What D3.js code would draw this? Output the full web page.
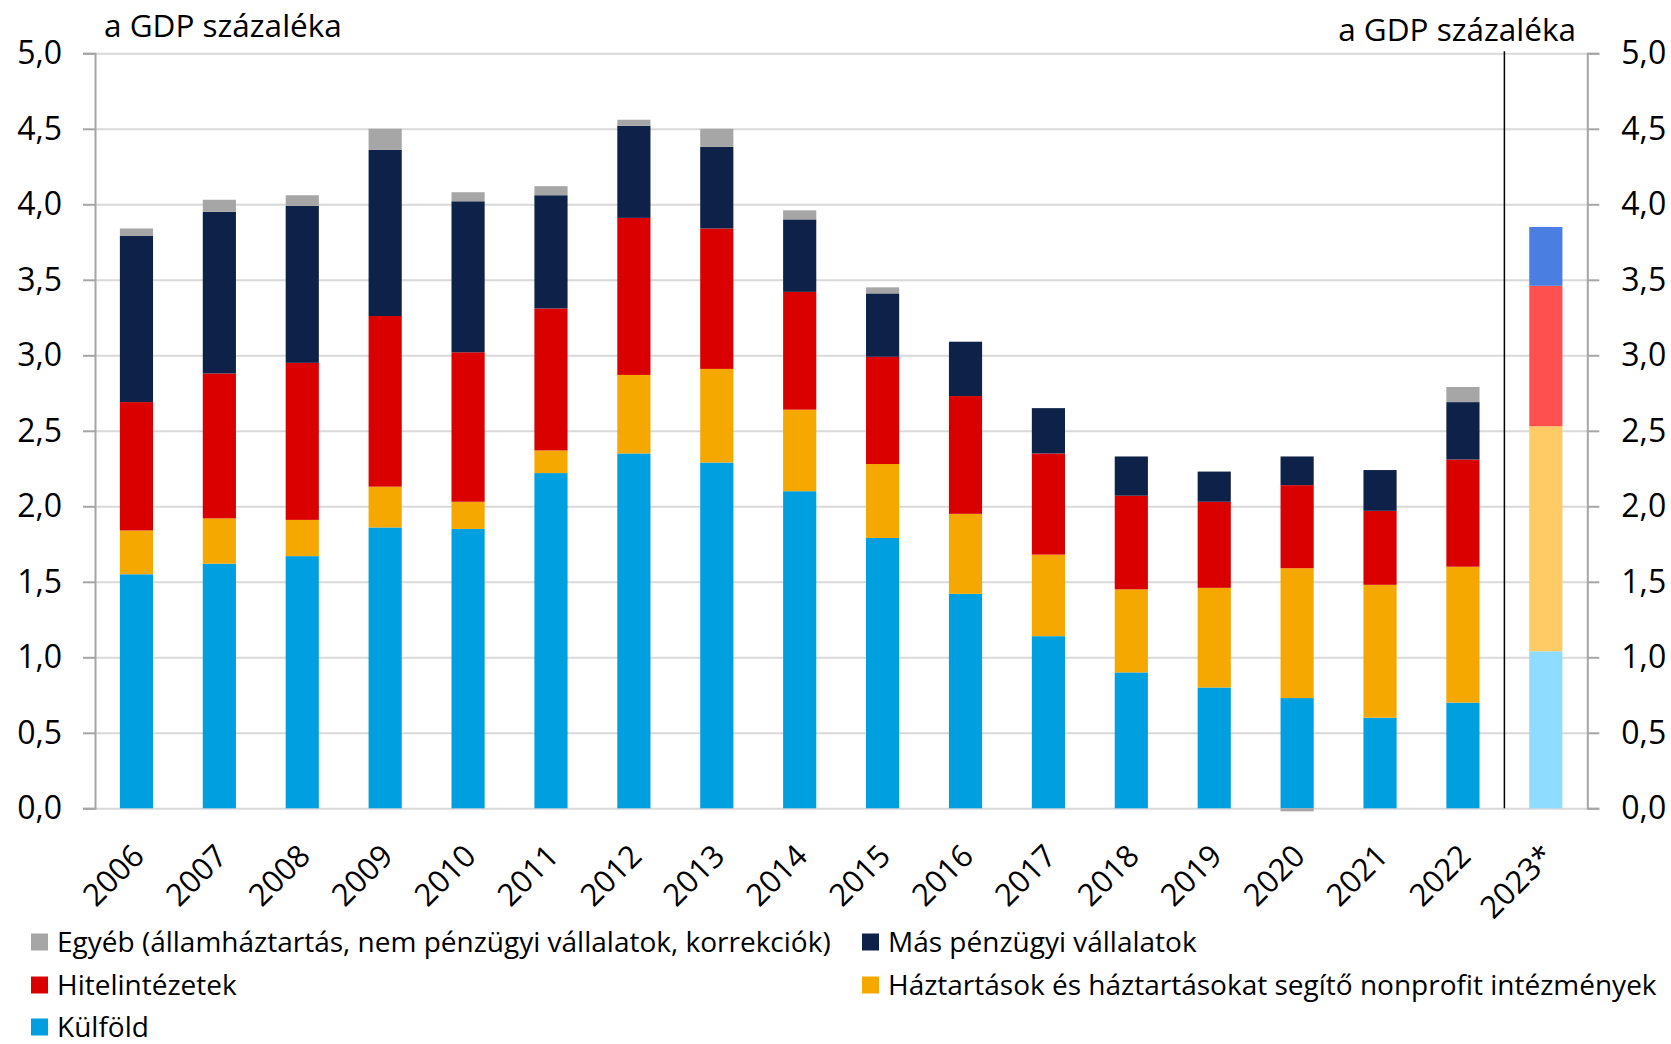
<!DOCTYPE html>
<html>
<head>
<meta charset="utf-8">
<script src="https://cdn.jsdelivr.net/npm/d3@7"></script>
<style>
  body { margin: 0; background: #fff; }
  svg { display: block; }
  text { font-family: "Open Sans", Lato, sans-serif; fill: #000; }
</style>
</head>
<body>
<script>
// categories
var years = ["2006", "2007", "2008", "2009", "2010", "2011", "2012", "2013", "2014",
             "2015", "2016", "2017", "2018", "2019", "2020", "2021", "2022", "2023*"];

// series values, % of GDP (stacked bottom to top)
var kulfold     = [1.55, 1.62, 1.67, 1.86, 1.85, 2.22, 2.35, 2.29, 2.10, 1.79, 1.42, 1.14, 0.90, 0.80, 0.73, 0.60, 0.70, 1.04];
var haztartasok = [0.29, 0.30, 0.24, 0.27, 0.18, 0.15, 0.52, 0.62, 0.54, 0.49, 0.53, 0.54, 0.55, 0.66, 0.86, 0.88, 0.90, 1.49];
var hitel       = [0.85, 0.96, 1.04, 1.13, 0.99, 0.94, 1.04, 0.93, 0.78, 0.71, 0.78, 0.67, 0.62, 0.57, 0.55, 0.49, 0.71, 0.93];
var masPenzugyi = [1.10, 1.07, 1.04, 1.10, 1.00, 0.75, 0.61, 0.54, 0.48, 0.42, 0.36, 0.30, 0.26, 0.20, 0.19, 0.27, 0.38, 0.39];
var egyeb       = [0.05, 0.08, 0.07, 0.14, 0.06, 0.06, 0.04, 0.12, 0.06, 0.04, 0.00, 0.00, 0.00, 0.00, -0.02, 0.00, 0.10, 0.00];

// left / right axis tick labels
var yTicks = [0, 0.5, 1, 1.5, 2, 2.5, 3, 3.5, 4, 4.5, 5];
var yLabels = ["0,0", "0,5", "1,0", "1,5", "2,0", "2,5", "3,0", "3,5", "4,0", "4,5", "5,0"];

var seriesKeys = ["kulfold", "haztartasok", "hitel", "masPenzugyi", "egyeb"];
var seriesNames = ["Külföld", "Háztartások és háztartásokat segítő nonprofit intézmények",
                   "Hitelintézetek", "Más pénzügyi vállalatok",
                   "Egyéb (államháztartás, nem pénzügyi vállalatok, korrekciók)"];
var colors     = ["#009fe0", "#f5a800", "#da0000", "#0e2149", "#a6a6a6"];
var colorsProj = ["#8edcff", "#ffcb64", "#ff5050", "#4a7ee0", "#a6a6a6"];

var W = 1671, H = 1044;
var plotLeft = 95, plotRight = 1587.3, plotTop = 53.3, plotBottom = 808.3;

var rows = years.map(function (y, i) {
    return { year: y, kulfold: kulfold[i], haztartasok: haztartasok[i], hitel: hitel[i],
             masPenzugyi: masPenzugyi[i], egyeb: egyeb[i] };
});

var stack = d3.stack().keys(seriesKeys).offset(d3.stackOffsetDiverging);
var series = stack(rows);

var x = d3.scaleBand()
    .domain(years)
    .range([plotLeft, plotRight])
    .paddingInner(0.6)
    .paddingOuter(0.3);

var y = d3.scaleLinear()
    .domain([0, 5])
    .range([plotBottom, plotTop]);

var svg = d3.select("body").append("svg")
    .attr("width", W)
    .attr("height", H);

// gridlines
svg.append("g")
    .attr("transform", "translate(" + plotLeft + ",0)")
    .call(d3.axisRight(y).tickValues(yTicks).tickSize(plotRight - plotLeft).tickFormat(""))
    .call(function (g) {
        g.select(".domain").remove();
        g.selectAll("line").attr("stroke", "#d9d9d9").attr("stroke-width", 2);
    });

// bars
svg.append("g").selectAll("g")
    .data(series)
    .enter().append("g")
    .each(function (s, si) {
        d3.select(this).selectAll("rect")
            .data(s)
            .enter().append("rect")
            .attr("x", function (d) { return x(d.data.year); })
            .attr("width", x.bandwidth())
            .attr("y", function (d) { return y(Math.max(d[0], d[1])); })
            .attr("height", function (d) { return Math.abs(y(d[0]) - y(d[1])); })
            .attr("fill", function (d) { return d.data.year == "2023*" ? colorsProj[si] : colors[si]; });
    });

function styleAxis(g) {
    g.select(".domain").attr("stroke", "#a6a6a6").attr("stroke-width", 2);
    g.selectAll(".tick line").attr("stroke", "#a6a6a6").attr("stroke-width", 2);
    g.selectAll("text").style("font-size", "32px").style("font-family", "'Open Sans', sans-serif").attr("fill", "#000");
}

// left axis
svg.append("g")
    .attr("class", "y axis")
    .attr("transform", "translate(" + plotLeft + ",0)")
    .call(d3.axisLeft(y).tickValues(yTicks).tickSize(12).tickPadding(21)
        .tickFormat(function (d, i) { return yLabels[i]; }))
    .call(styleAxis);

// right axis
svg.append("g")
    .attr("class", "y axis")
    .attr("transform", "translate(" + plotRight + ",0)")
    .call(d3.axisRight(y).tickValues(yTicks).tickSize(12).tickPadding(22)
        .tickFormat(function (d, i) { return yLabels[i]; }))
    .call(styleAxis);

// x axis labels
svg.append("g")
    .attr("class", "x axis")
    .attr("transform", "translate(0," + plotBottom + ")")
    .call(d3.axisBottom(x).tickSize(0))
    .call(function (g) {
        g.select(".domain").remove();
        g.selectAll("text")
            .attr("x", 0)
            .attr("y", 0)
            .attr("dy", "0.35em")
            .attr("text-anchor", "end")
            .attr("transform", "translate(2,42) rotate(-45)")
            .style("font-size", "31px")
            .style("font-family", "'Open Sans', sans-serif")
            .attr("fill", "#000");
    });

// separator before the projection
var sepX = x(years[years.length - 2]) + x.bandwidth() / 2 + x.step() / 2;
svg.append("line")
    .attr("x1", sepX).attr("x2", sepX)
    .attr("y1", plotTop - 2).attr("y2", plotBottom)
    .attr("stroke", "#000")
    .attr("stroke-width", 1.5);

// unit labels
svg.append("text")
    .attr("x", 104)
    .attr("y", 37)
    .style("font-size", "31.5px")
    .text("a GDP százaléka");

svg.append("text")
    .attr("x", 1576)
    .attr("y", 41)
    .attr("text-anchor", "end")
    .style("font-size", "31.5px")
    .text("a GDP százaléka");

// legend
var legendItems = [
    { i: 4, x: 31,  y: 942 },
    { i: 3, x: 862, y: 942 },
    { i: 2, x: 31,  y: 985 },
    { i: 1, x: 862, y: 985 },
    { i: 0, x: 31,  y: 1027 }
];

var legend = svg.append("g");
legendItems.forEach(function (it) {
    legend.append("rect")
        .attr("x", it.x)
        .attr("y", it.y - 8.5)
        .attr("width", 17)
        .attr("height", 17)
        .attr("fill", colors[it.i]);
    legend.append("text")
        .attr("x", it.x + 26)
        .attr("y", it.y)
        .attr("dy", "0.35em")
        .style("font-size", "28px")
        .text(seriesNames[it.i]);
});
</script>
</body>
</html>
